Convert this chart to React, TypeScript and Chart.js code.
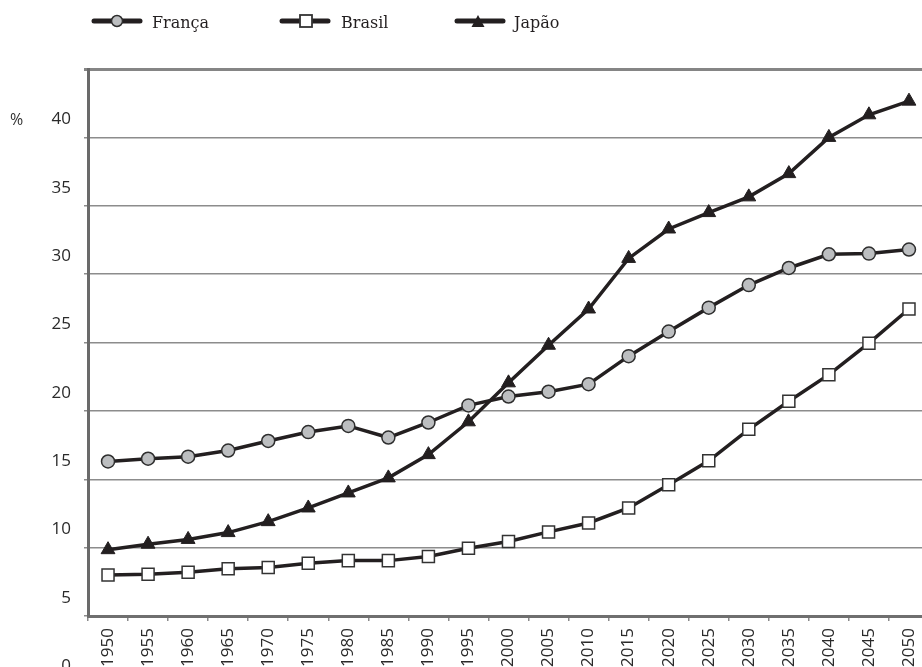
import { useEffect, useRef } from "react";
import { Chart, registerables } from "chart.js";

Chart.register(...registerables);

const years = [
  "1950", "1955", "1960", "1965", "1970", "1975", "1980", "1985", "1990", "1995", "2000",
  "2005", "2010", "2015", "2020", "2025", "2030", "2035", "2040", "2045", "2050",
];

const franca = [
  16.3, 16.5, 16.65, 17.1, 17.8, 18.45, 18.9, 18.05, 19.15, 20.4, 21.05,
  21.4, 21.95, 24.0, 25.8, 27.55, 29.2, 30.45, 31.45, 31.5, 31.8,
];

const brasil = [
  8.0, 8.05, 8.2, 8.45, 8.55, 8.85, 9.05, 9.05, 9.35, 9.95, 10.45,
  11.15, 11.8, 12.9, 14.6, 16.35, 18.65, 20.7, 22.65, 24.95, 27.45,
];

const japao = [
  9.85, 10.25, 10.6, 11.1, 11.9, 12.9, 14.0, 15.1, 16.8, 19.2, 22.05,
  24.8, 27.45, 31.15, 33.3, 34.5, 35.65, 37.35, 40.0, 41.65, 42.65,
];

const yTickValues = [0, 5, 10, 15, 20, 25, 30, 35, 40, 45];
const yTickLabels = ["0", "5", "10", "15", "20", "25", "30", "35", "40", ""];

const seriesNames = ["França", "Brasil", "Japão"];

const INK = "#231f20";

export default function App() {
  const ref = useRef<HTMLCanvasElement>(null);

  useEffect(() => {
    if (!ref.current) return;
    const chart = new Chart(ref.current, {
      type: "line",
      data: {
        labels: years,
        datasets: [
          {
            label: seriesNames[0],
            data: franca,
            borderColor: INK,
            borderWidth: 3.5,
            pointStyle: "circle",
            pointRadius: 6.5,
            pointBackgroundColor: "#bcbec0",
            pointBorderColor: "#2e2e2e",
            pointBorderWidth: 1.5,
            tension: 0,
          },
          {
            label: seriesNames[1],
            data: brasil,
            borderColor: INK,
            borderWidth: 3.5,
            pointStyle: "rect",
            pointRadius: 8.5,
            pointBackgroundColor: "#ffffff",
            pointBorderColor: "#333333",
            pointBorderWidth: 1.5,
            tension: 0,
          },
          {
            label: seriesNames[2],
            data: japao,
            borderColor: INK,
            borderWidth: 3.5,
            pointStyle: "triangle",
            pointRadius: 8,
            pointBackgroundColor: INK,
            pointBorderColor: INK,
            pointBorderWidth: 1,
            tension: 0,
          },
        ],
      },
      options: {
        responsive: false,
        animation: false,
        events: [],
        layout: { padding: { top: 69, right: 11, bottom: 0, left: 0 } },
        font: { family: "'Open Sans', sans-serif" },
        plugins: {
          legend: { display: false },
          tooltip: { enabled: false },
          title: { display: false },
        },
        scales: {
          x: {
            type: "category",
            offset: true,
            grid: {
              offset: true,
              drawOnChartArea: false,
              drawTicks: true,
              tickLength: 5,
              color: "#8a8a8a",
              lineWidth: 1.5,
            },
            border: { display: true, color: "#6f6f6f", width: 3 },
            ticks: {
              minRotation: 90,
              maxRotation: 90,
              autoSkip: false,
              padding: 7,
              color: "#2a2a2a",
              font: { family: "'Open Sans', sans-serif", size: 17 },
            },
            afterFit: (scale: any) => {
              scale.height = 51;
            },
          },
          y: {
            type: "linear",
            min: 5,
            max: 45,
            afterBuildTicks: (scale: any) => {
              scale.ticks = yTickValues.map((v) => ({ value: v }));
            },
            ticks: {
              autoSkip: false,
              labelOffset: -18,
              padding: 13,
              color: "#2a2a2a",
              font: { family: "'Open Sans', sans-serif", size: 17 },
              callback: (value: any) => {
                const i = yTickValues.indexOf(Number(value));
                return i >= 0 ? yTickLabels[i] : "";
              },
            },
            grid: {
              color: (c: any) => (c.tick && c.tick.value === 45 ? "#858585" : "#8c8c8c"),
              lineWidth: (c: any) => (c.tick && c.tick.value === 45 ? 3 : 1.5),
              tickLength: 4,
              drawTicks: true,
            },
            border: { display: true, color: "#6a6a6a", width: 3 },
            afterFit: (scale: any) => {
              scale.width = 88;
            },
          },
        },
      },
    });
    return () => chart.destroy();
  }, []);

  return (
    <div
      style={{
        position: "fixed",
        left: 0,
        top: 0,
        width: 922,
        height: 667,
        overflow: "hidden",
        background: "#ffffff",
      }}
    >
      <canvas
        ref={ref}
        width={940}
        height={667}
        style={{ position: "absolute", left: 0, top: 0, width: 940, height: 667 }}
      />
      <svg
        width={922}
        height={140}
        style={{ position: "absolute", left: 0, top: 0, pointerEvents: "none" }}
      >
        <g stroke={INK} strokeWidth={5} strokeLinecap="round">
          <line x1={94} y1={21} x2={140} y2={21} />
          <line x1={282} y1={21} x2={328} y2={21} />
          <line x1={457} y1={21} x2={503} y2={21} />
        </g>
        <circle cx={117} cy={21} r={5.5} fill="#bcbec0" stroke="#2e2e2e" strokeWidth={1.5} />
        <rect x={300} y={15} width={12} height={12} fill="#ffffff" stroke="#333333" strokeWidth={1.8} />
        <polygon points="478,15 484.5,27 471.5,27" fill={INK} />
        <g fontFamily="'DejaVu Serif', serif" fontSize={16} fill={INK}>
          <text x={152} y={28}>{seriesNames[0]}</text>
          <text x={341} y={28}>{seriesNames[1]}</text>
          <text x={514} y={28}>{seriesNames[2]}</text>
        </g>
        <text x={10} y={125} fontFamily="'Open Sans', sans-serif" fontSize={16} fill="#333333">
          %
        </text>
      </svg>
    </div>
  );
}
